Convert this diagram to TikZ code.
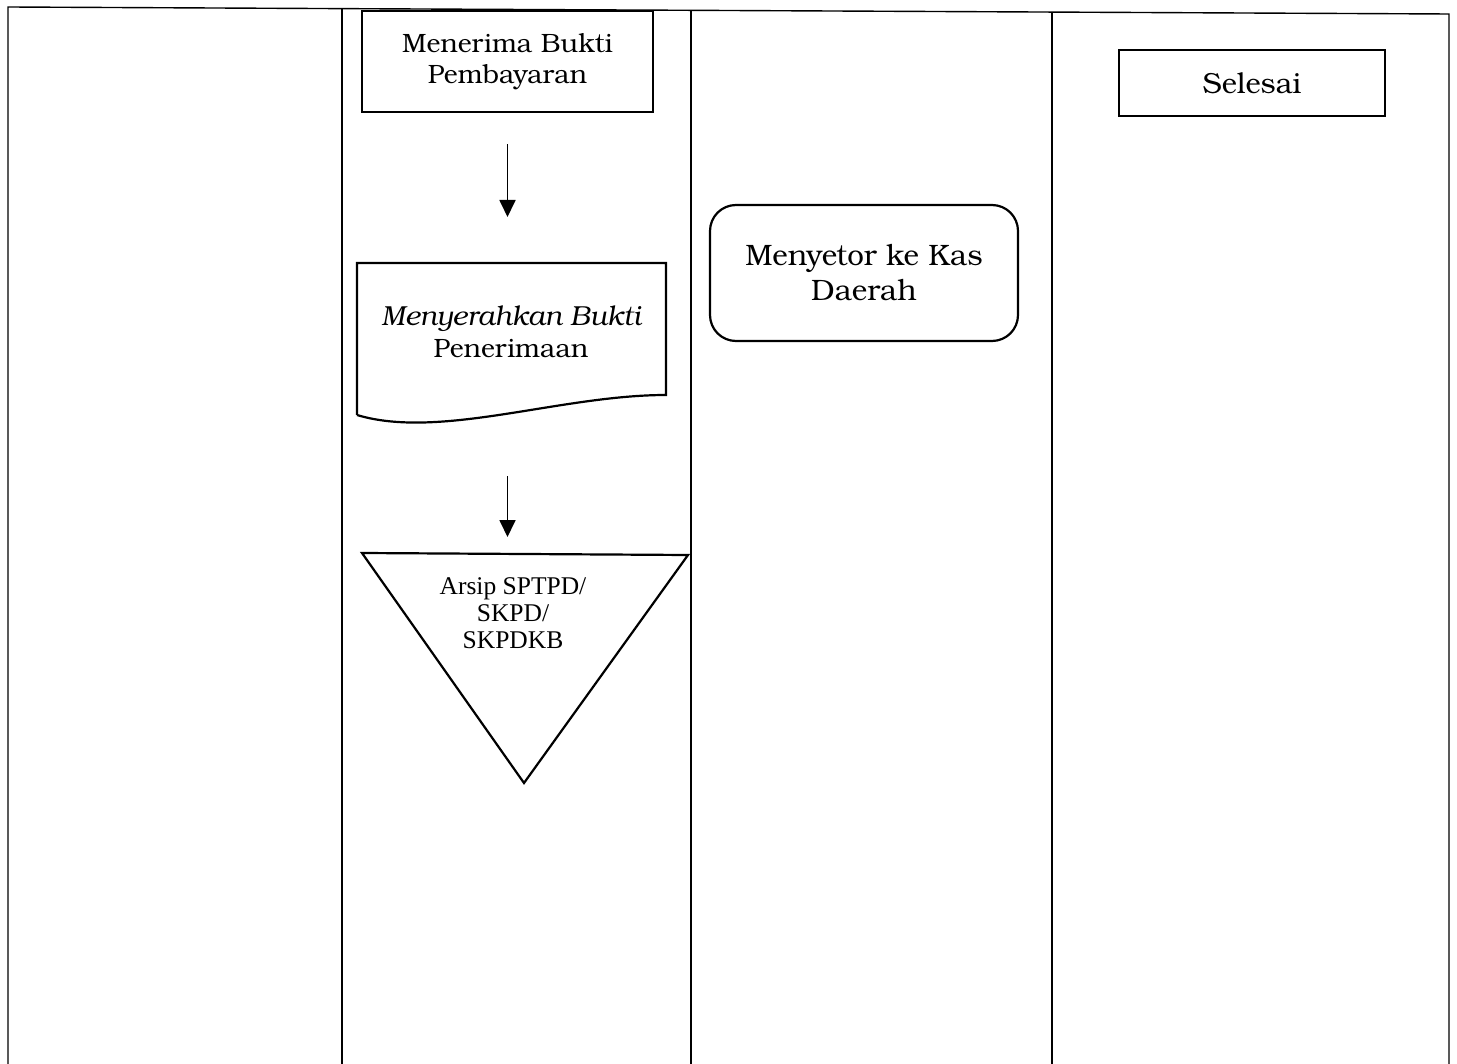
\documentclass[tikz,border=0pt]{standalone}
\usepackage{fontspec}
\setmainfont{texgyrebonum}[Extension=.otf,UprightFont=*-regular,ItalicFont=*-italic,BoldFont=*-bold,BoldItalicFont=*-bolditalic]
\newfontfamily\timesf{Liberation Serif}
\usetikzlibrary{arrows.meta}
\begin{document}
\begin{tikzpicture}[x=1pt,y=-1pt,line join=miter,
  frame/.style={line width=1.4pt},
  boxs/.style={draw,line width=2.2pt,inner sep=0pt,align=center},
  arr/.style={-{Triangle[length=17pt,width=16pt]},line width=1.8pt},
  lbl/.style={align=center,inner sep=0pt}]
\useasboundingbox (0,0) rectangle (1457,1064);
\fill[white] (0,0) rectangle (1457,1064);
% frame and lanes
\draw[frame] (8,1064) -- (8,7) -- (1449,14) -- (1449,1064);
\draw[frame] (342,8.6) -- (342,1064);
\draw[frame] (691,10.3) -- (691,1064);
\draw[frame] (1052,12.1) -- (1052,1064);
% box 1
\node[boxs,minimum width=291pt,minimum height=101pt,font=\fontsize{26.5}{31}\selectfont] (b1) at (507.5,61.5) {Menerima Bukti\\Pembayaran};
% document shape
\draw[line width=2.2pt] (357,415) -- (357,263) -- (666,263) -- (666,395)
  .. controls (560,395) and (440,440) .. (357,415);
\node[lbl,font=\fontsize{26.5}{32}\selectfont] (dt) at (511,332) {{\itshape\fontsize{27.5}{32}\selectfont Menyerahkan Bukti}\\Penerimaan};
\coordinate (doctop) at (507.5,263);
\coordinate (docbot) at (507.5,408);
% arrows
\draw[arr,shorten <=31pt,shorten >=46pt] (b1.south) -- (doctop);
\draw[arr,shorten <=68pt,shorten >=17pt] (docbot) -- (507.5,554) coordinate (tritop);
% triangle
\draw[line width=2.2pt] (362,553) -- (688,555) -- (524,783) -- cycle;
\node[align=center,inner sep=0pt,font=\timesf\fontsize{25.5}{27}\selectfont] (arsip) at (513,613) {Arsip SPTPD/\\SKPD/\\SKPDKB};
% rounded box
\node[boxs,rounded corners=26pt,minimum width=308pt,minimum height=136pt,font=\fontsize{29.5}{35}\selectfont] (kas) at (864,273) {Menyetor ke Kas\\Daerah};
% selesai
\node[boxs,minimum width=266pt,minimum height=66pt,font=\fontsize{29}{35}\selectfont] (sel) at (1252,83) {Selesai};
\end{tikzpicture}
\end{document}
